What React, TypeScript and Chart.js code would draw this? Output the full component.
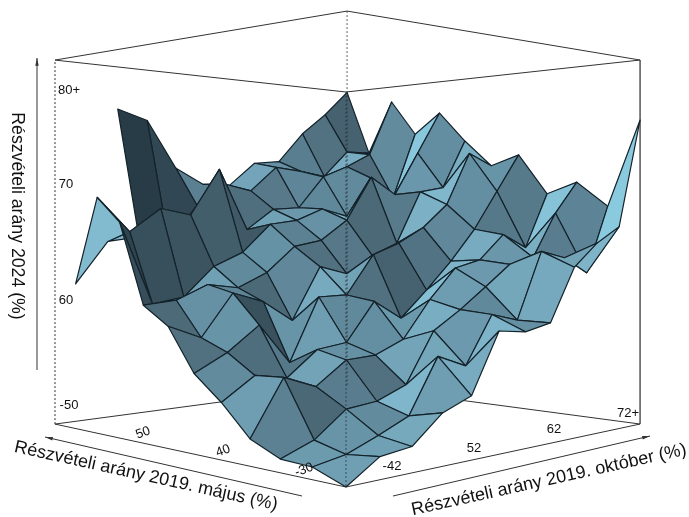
import React, { useEffect, useRef } from "react";
import { Chart, registerables } from "chart.js";

Chart.register(...registerables);

// Turnout 2024 (%) at each grid node: one row per October 2019 step, one value per May 2019 step.
const octRow0 = [50.0, 51.1, 51.2, 52.4, 55.1, 57.2, 61.0, 62.5, 69.7, 71.7, 63.4, null];
const octRow1 = [52.0, 51.6, 52.3, 57.3, 57.0, 58.6, 59.5, 62.5, 61.8, 68.1, 66.9, null];
const octRow2 = [52.3, 52.7, 54.5, 56.0, 56.3, 60.6, 63.1, 63.5, 62.0, 69.8, 66.9, 78.5];
const octRow3 = [54.7, 53.9, 54.7, 57.9, 58.4, 56.8, 61.9, 62.8, 64.4, 68.8, 66.0, 77.0];
const octRow4 = [55.7, 58.7, 55.7, 57.9, 58.6, 62.3, 59.8, 63.8, 65.3, 72.6, 69.0, 72.2];
const octRow5 = [61.0, 57.4, 60.1, 58.9, 61.9, 62.1, 64.3, 65.8, 67.5, 66.7, 70.6, 70.3];
const octRow6 = [60.5, 61.6, 61.6, 62.1, 60.0, 65.4, 63.3, 66.0, 67.5, 68.2, 69.6, 69.8];
const octRow7 = [60.9, 60.7, 63.3, 64.6, 62.2, 66.1, 64.6, 67.5, 68.2, 68.0, 71.4, 71.5];
const octRow8 = [65.6, 66.6, 65.0, 65.0, 64.5, 67.2, 65.4, 71.1, 67.2, 70.5, 70.7, 71.3];
const octRow9 = [67.5, 65.7, 65.3, 67.0, 67.1, 69.0, 69.8, 69.2, 70.4, 71.1, 69.9, 73.5];
const octRow10 = [68.7, 64.0, 69.1, 65.5, 70.3, 73.4, 69.9, 72.7, 68.3, 71.9, 71.8, 74.9];
const octRow11 = [78.4, 69.9, 71.7, 70.2, 73.4, 72.0, 73.9, 76.1, 73.8, 76.4, 71.4, 76.6];
const surface: (number | null)[][] = [
  octRow0, octRow1, octRow2, octRow3, octRow4, octRow5,
  octRow6, octRow7, octRow8, octRow9, octRow10, octRow11,
];

const zTicks = ["80+", "70", "60", "-50"];
const mayTicks = ["50", "40", "-30"];
const octTicks = ["-42", "52", "62", "72+"];
const zTitle = "Részvételi arány 2024 (%)";
const mayTitle = "Részvételi arány 2019. május (%)";
const octTitle = "Részvételi arány 2019. október (%)";

const CELLS = 11;
const Z_MIN = 50;
const Z_MAX = 84;

// Camera of the box: maps grid (i, j, z) to the view plane used by the two linear scales.
function project(i: number, j: number, z: number) {
  const w = 1 + 0.0276 * i + 0.0283 * j;
  const x = (346 + 44.4 * i - 24.9 * j) / w;
  const base = (487 + 5.98 * i + 6.28 * j) / w;
  const u = i / CELLS;
  const v = j / CELLS;
  const h = 395 - 31 * u - 31 * v + 41 * u * v;
  return { x, y: base - ((z - Z_MIN) / (Z_MAX - Z_MIN)) * h };
}

const stops: [number, number[]][] = [
  [-0.6, [31, 51, 61]],
  [-0.2, [58, 82, 94]],
  [0.1, [77, 106, 121]],
  [0.3, [93, 132, 150]],
  [0.55, [111, 158, 178]],
  [0.8, [127, 181, 202]],
  [1.0, [140, 205, 226]],
];

function shade(dzdi: number, dzdj: number) {
  const nx = -dzdi / 5;
  const ny = -dzdj / 5;
  const len = Math.hypot(nx, ny, 1);
  const s = (-0.5 * nx + 0.7 * ny + 0.5) / (0.995 * len);
  for (let k = 1; k < stops.length; k++) {
    if (s <= stops[k][0] || k === stops.length - 1) {
      const [a, ca] = stops[k - 1];
      const [b, cb] = stops[k];
      const t = Math.max(0, Math.min(1, (s - a) / (b - a)));
      const c = ca.map((q, m) => Math.round(q + (cb[m] - q) * t));
      return `rgb(${c[0]},${c[1]},${c[2]})`;
    }
  }
  return "rgb(93,132,150)";
}

function buildCells() {
  const cells: { depth: number; ds: any }[] = [];
  for (let i = 0; i < CELLS; i++) {
    for (let j = 0; j < CELLS; j++) {
      const a = surface[i][j];
      const b = surface[i + 1][j];
      const c = surface[i + 1][j + 1];
      const d = surface[i][j + 1];
      if (a === null || b === null || c === null || d === null) continue;
      const dzdi = (b + c - a - d) / 2;
      const dzdj = (c + d - a - b) / 2;
      cells.push({
        depth: i + j,
        ds: {
          data: [
            project(i, j, a),
            project(i + 1, j, b),
            project(i + 1, j + 1, c),
            project(i, j + 1, d),
            project(i, j, a),
          ],
          showLine: true,
          fill: "shape",
          backgroundColor: shade(dzdi, dzdj),
          borderColor: "#14222a",
          borderWidth: 1.2,
          borderJoinStyle: "round",
          pointRadius: 0,
          tension: 0,
          clip: false,
        },
      });
    }
  }
  return cells.sort((p, q) => p.depth - q.depth).map((c) => c.ds);
}

function edge(a: number[], b: number[], color: string, width: number, dash: number[] = []) {
  return {
    data: [project(a[0], a[1], a[2]), project(b[0], b[1], b[2])],
    showLine: true,
    fill: false,
    borderColor: color,
    borderWidth: width,
    borderDash: dash,
    pointRadius: 0,
    tension: 0,
    clip: false,
  };
}

const N = CELLS;
const frontEdges = [
  edge([N, N, Z_MAX], [N, N, Z_MIN], "rgba(40,50,55,0.75)", 1, [2, 2]),
  edge([0, 0, Z_MAX], [0, 0, Z_MIN], "rgba(40,50,55,0.75)", 1, [2, 2]),
];
const backEdges = [
  edge([0, N, Z_MAX], [N, N, Z_MAX], "#333", 1),
  edge([N, 0, Z_MAX], [N, N, Z_MAX], "#333", 1),
  edge([0, N, Z_MAX], [0, 0, Z_MAX], "#333", 1),
  edge([N, 0, Z_MAX], [0, 0, Z_MAX], "#333", 1),
  edge([0, N, Z_MIN], [N, N, Z_MIN], "#333", 1),
  edge([N, 0, Z_MIN], [N, N, Z_MIN], "#333", 1),
  edge([0, N, Z_MIN], [0, 0, Z_MIN], "#333", 1),
  edge([N, 0, Z_MIN], [0, 0, Z_MIN], "#333", 1),
  edge([N, 0, Z_MIN], [N, 0, Z_MAX], "#555", 1.5),
  edge([0, N, Z_MIN], [0, N, Z_MAX], "#333", 1, [2, 2]),
];

const FONT = '"Liberation Sans", Arial, sans-serif';

const textPlugin = {
  id: "boxText",
  afterDraw(chart: any) {
    const ctx = chart.ctx;
    const sx = chart.scales.x;
    const sy = chart.scales.y;
    const put = (s: string, x: number, y: number, deg: number, size: number, color = "#111") => {
      ctx.save();
      ctx.translate(sx.getPixelForValue(x), sy.getPixelForValue(y));
      ctx.rotate((deg * Math.PI) / 180);
      ctx.font = `${size}px ${FONT}`;
      ctx.fillStyle = color;
      ctx.textAlign = "center";
      ctx.textBaseline = "middle";
      ctx.fillText(s, 0, 0);
      ctx.restore();
    };
    const arrow = (x0: number, y0: number, x1: number, y1: number) => {
      const ax = sx.getPixelForValue(x0);
      const ay = sy.getPixelForValue(y0);
      const bx = sx.getPixelForValue(x1);
      const by = sy.getPixelForValue(y1);
      const t = Math.atan2(by - ay, bx - ax);
      ctx.save();
      ctx.strokeStyle = "#333";
      ctx.fillStyle = "#333";
      ctx.lineWidth = 1;
      ctx.beginPath();
      ctx.moveTo(ax, ay);
      ctx.lineTo(bx, by);
      ctx.stroke();
      ctx.beginPath();
      ctx.moveTo(bx, by);
      ctx.lineTo(bx - 8 * Math.cos(t - 0.22), by - 8 * Math.sin(t - 0.22));
      ctx.lineTo(bx - 8 * Math.cos(t + 0.22), by - 8 * Math.sin(t + 0.22));
      ctx.closePath();
      ctx.fill();
      ctx.restore();
    };
    const zPos = [[69, 90], [66, 184], [66, 300], [69, 405]];
    zTicks.forEach((s, k) => put(s, zPos[k][0], zPos[k][1], 0, 13));
    const mayPos = [[143, 433], [223, 451], [304, 470]];
    mayTicks.forEach((s, k) => put(s, mayPos[k][0], mayPos[k][1], -20, 13));
    const octPos = [[392, 466], [474, 448], [554, 429], [628, 413]];
    octTicks.forEach((s, k) => put(s, octPos[k][0], octPos[k][1], 0, 13));
    put(zTitle, 17, 216, 90, 17.7);
    put(mayTitle, 146, 476, 12.5, 18);
    put(octTitle, 549, 480, -12.5, 18);
    arrow(37, 370, 37, 58);
    arrow(302, 496, 45, 437);
    arrow(393, 496, 650, 436);
  },
};

export default function App() {
  const ref = useRef<HTMLCanvasElement | null>(null);
  useEffect(() => {
    document.body.style.margin = "0";
    document.body.style.background = "#fff";
    const chart = new Chart(ref.current as HTMLCanvasElement, {
      type: "scatter",
      data: { datasets: [...frontEdges, ...buildCells(), ...backEdges] as any },
      options: {
        responsive: false,
        animation: false,
        events: [],
        layout: { padding: 0 },
        plugins: { legend: { display: false }, tooltip: { enabled: false }, title: { display: false } },
        scales: {
          x: { type: "linear", min: 0, max: 689, display: false },
          y: { type: "linear", min: 0, max: 517, reverse: true, display: false },
        },
      } as any,
      plugins: [textPlugin as any],
    });
    return () => chart.destroy();
  }, []);
  return (
    <div style={{ width: 689, height: 517 }}>
      <canvas ref={ref} width={689} height={517} style={{ display: "block" }} />
    </div>
  );
}
